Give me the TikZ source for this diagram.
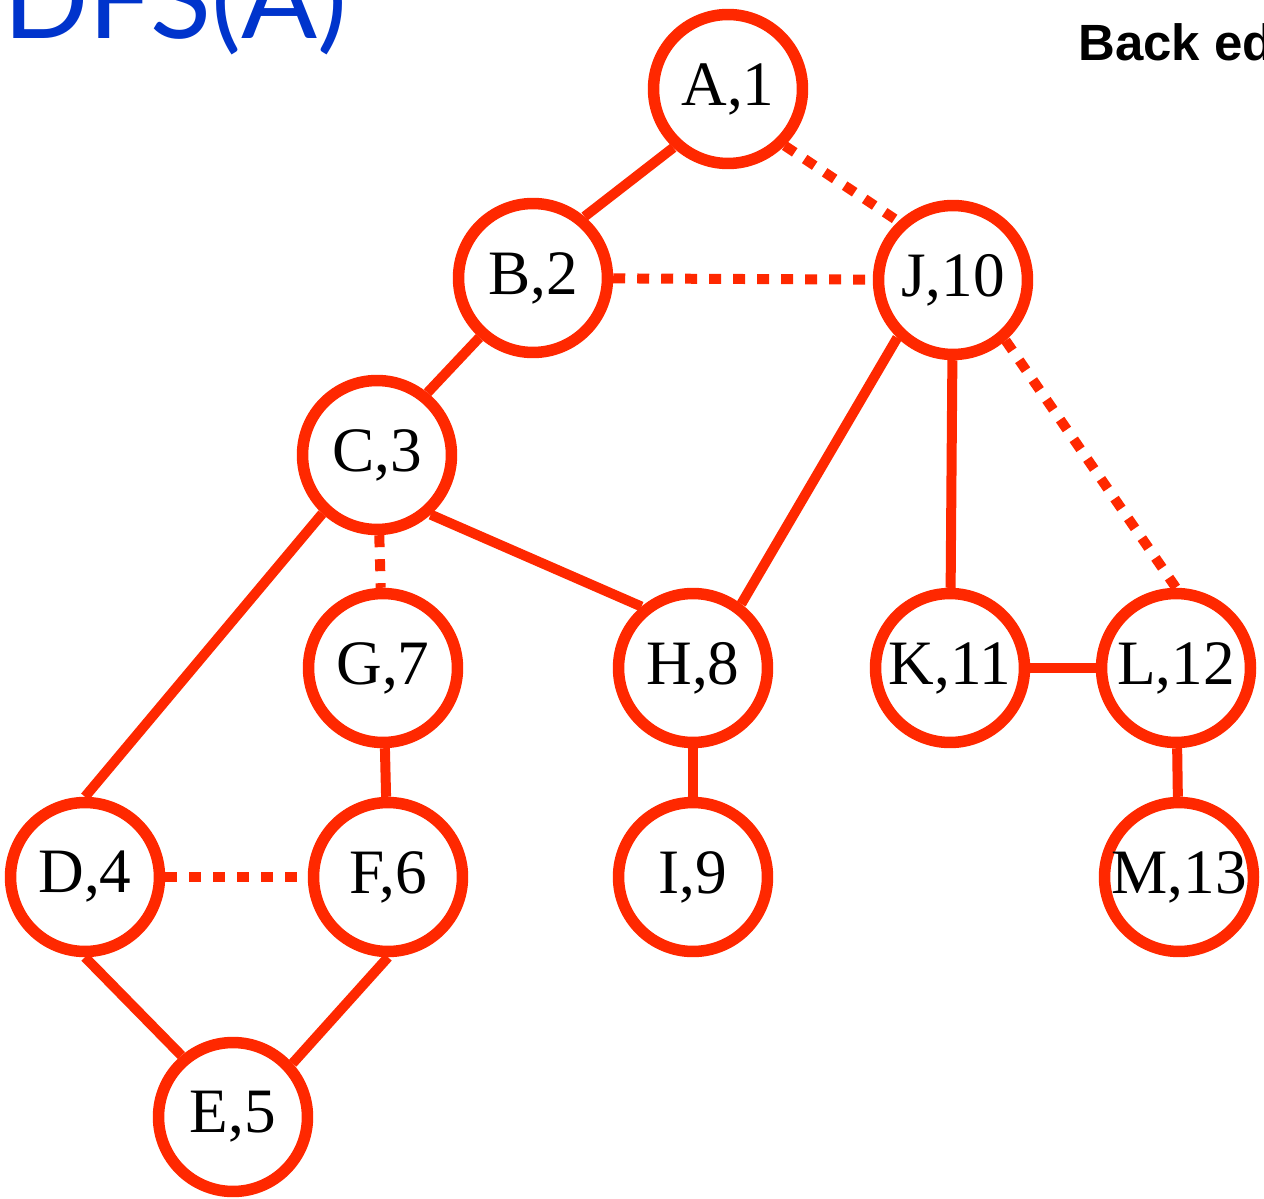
\documentclass[tikz,border=0pt]{standalone}
\usepackage{fontspec}
\setmainfont{Liberation Serif}
\newfontfamily\titlefont{Lato}
\newfontfamily\notefont{Liberation Sans}
\usetikzlibrary{positioning}
\definecolor{dfsred}{RGB}{255,40,0}
\definecolor{dfsblue}{RGB}{0,52,204}
\begin{document}
\begin{tikzpicture}[
  x=0.02cm, y=-0.02cm,
  font=\fontsize{36}{40}\selectfont,
  vnode/.style={circle, draw=dfsred, line width=0.23cm, fill=white, minimum size=2.98cm, inner sep=0pt},
  treeedge/.style={draw=dfsred, line width=0.2cm},
  backedge/.style={draw=dfsred, line width=0.2cm, dash pattern=on 0.24cm off 0.24cm}
]
  \clip (0,0) rectangle (1264,1199);
  \node[anchor=base west, inner sep=0pt, text=dfsblue, font=\titlefont\fontsize{64}{70}\selectfont] (title) at (3,39) {DFS(A)};
  \node[anchor=base west, inner sep=0pt, font=\notefont\bfseries\fontsize{29}{32}\selectfont] (note) at (1078,61) {Back edges};
  % vertices: letter, discovery time
  \node[vnode] (a) at (728,89) {A,1};
  \node[vnode] (b) at (533,278) {B,2};
  \node[vnode] (j) at (953,280) {J,10};
  \node[vnode] (c) at (377,455) {C,3};
  \node[vnode] (g) at (383,668) {G,7};
  \node[vnode] (h) at (693,668) {H,8};
  \node[vnode] (k) at (950,668) {K,11};
  \node[vnode] (l) at (1176,668) {L,12};
  \node[vnode] (d) at (85,877) {D,4};
  \node[vnode] (f) at (388,877) {F,6};
  \node[vnode] (i) at (693,877) {I,9};
  \node[vnode] (m) at (1179,877) {M,13};
  \node[vnode] (e) at (233,1117) {E,5};
  % tree edges
  \draw[treeedge] (a.-133) -- (b.50);
  \draw[treeedge] (b.-132) -- (c.51);
  \draw[treeedge] (c.-133) -- (d.north);
  \draw[treeedge] (d.south) -- (e.130);
  \draw[treeedge] (f.south) -- (e.42);
  \draw[treeedge] (f) -- (g);
  \draw[treeedge] (c.-48) -- (h.130);
  \draw[treeedge] (h) -- (i);
  \draw[treeedge] (j.-134) -- (h.53);
  \draw[treeedge] (j) -- (k);
  \draw[treeedge] (k) -- (l);
  \draw[treeedge] (l) -- (m);
  % back edges
  \draw[backedge] (a.-45) -- (j.133);
  \draw[backedge] (b) -- (j);
  \draw[backedge] (c) -- (g);
  \draw[backedge] (d) -- (f);
  \draw[backedge] (j.-49) -- (l.north);
\end{tikzpicture}
\end{document}
